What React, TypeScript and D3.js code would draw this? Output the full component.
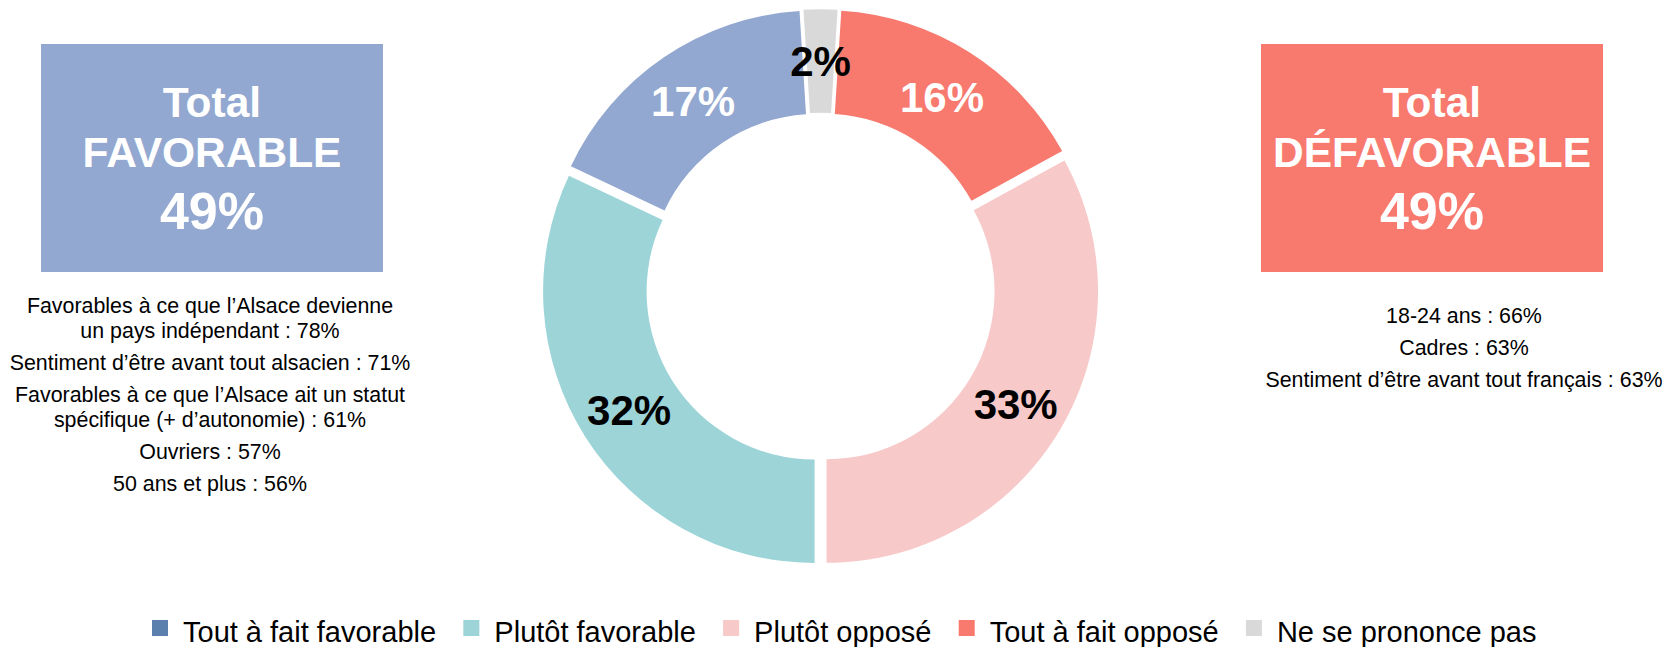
import React, { useMemo } from 'react';
import * as d3 from 'd3';

// chart data
const categories = ['Tout à fait favorable', 'Plutôt favorable', 'Plutôt opposé', 'Tout à fait opposé', 'Ne se prononce pas'];
const values = [17, 32, 33, 16, 2];
const sliceColors = ['#93A8D0', '#9CD4D8', '#F7C9C9', '#F8796E', '#D9D9D9'];
const legendColors = ['#5B80AE', '#9CD4D8', '#F7C9C9', '#F8796E', '#D9D9D9'];
const labelColors = ['#ffffff', '#000000', '#000000', '#ffffff', '#000000'];

const totalFavorable = ['Total', 'FAVORABLE', '49%'];
const totalDefavorable = ['Total', 'DÉFAVORABLE', '49%'];
const favorableNotes = [
  ['Favorables à ce que l’Alsace devienne', 'un pays indépendant : 78%'],
  ['Sentiment d’être avant tout alsacien : 71%'],
  ['Favorables à ce que l’Alsace ait un statut', 'spécifique (+ d’autonomie) : 61%'],
  ['Ouvriers : 57%'],
  ['50 ans et plus : 56%'],
];
const defavorableNotes = [['18-24 ans : 66%'], ['Cadres : 63%'], ['Sentiment d’être avant tout français : 63%']];

const FONT = '"Liberation Sans", Arial, Helvetica, sans-serif';
const W = 1664;
const H = 647;

// measure text for the legend layout
const measure = (txt: string, size: number) => {
  const ctx = document.createElement('canvas').getContext('2d');
  if (!ctx) return txt.length * size * 0.5;
  ctx.font = `${size}px "Liberation Sans", Arial, sans-serif`;
  return ctx.measureText(txt).width;
};

const TotalBox = ({ x, color, lines }: { x: number; color: string; lines: string[] }) => {
  const w = 342;
  return (
    <g>
      <rect x={x} y={44} width={w} height={228} fill={color} />
      <text x={x + w / 2} y={117} textAnchor="middle" fill="#fff" fontWeight="bold" fontSize={42.5} fontFamily={FONT}>{lines[0]}</text>
      <text x={x + w / 2} y={167} textAnchor="middle" fill="#fff" fontWeight="bold" fontSize={42.5} fontFamily={FONT}>{lines[1]}</text>
      <text x={x + w / 2} y={229} textAnchor="middle" fill="#fff" fontWeight="bold" fontSize={52} fontFamily={FONT}>{lines[2]}</text>
    </g>
  );
};

const Notes = ({ cx, y0, groups }: { cx: number; y0: number; groups: string[][] }) => {
  let y = y0;
  const out: React.ReactNode[] = [];
  groups.forEach((g, gi) => {
    if (gi > 0) y += 32;
    g.forEach((line, li) => {
      if (li > 0) y += 25;
      out.push(
        <text key={`${gi}-${li}`} x={cx} y={y} textAnchor="middle" fontSize={21.4} fontFamily={FONT} fill="#000">{line}</text>
      );
    });
  });
  return <g>{out}</g>;
};

export default function App() {
  const cx = 820.5;
  const cy = 287.7;
  const outer = 271.5;
  const inner = 168;
  const explode = 7; // every slice pulled out a bit

  const arcs = useMemo(() => {
    const total = d3.sum(values);
    const start = -(values[values.length - 1] / total) * Math.PI;
    return d3.pie<number>().sort(null).startAngle(start).endAngle(start - 2 * Math.PI)(values);
  }, []);

  const arcGen = d3.arc<d3.PieArcDatum<number>>().innerRadius(inner).outerRadius(outer);
  const offset = (a: d3.PieArcDatum<number>) => {
    const m = (a.startAngle + a.endAngle) / 2;
    return [Math.sin(m) * explode, -Math.cos(m) * explode];
  };

  // legend layout
  const legendSize = 29;
  const box = 16;
  const gapText = 15;
  const gapItem = 27.25;
  let lx = 152;
  const legend = categories.map((c, i) => {
    const item = { x: lx, label: c, color: legendColors[i] };
    lx += box + gapText + measure(c, legendSize) + gapItem;
    return item;
  });

  return (
    <svg width={W} height={H} style={{ position: 'absolute', left: 0, top: 0, display: 'block', background: '#fff' }}>
      <TotalBox x={41} color="#93A8D0" lines={totalFavorable} />
      <TotalBox x={1261} color="#F8796E" lines={totalDefavorable} />
      <Notes cx={210} y0={313} groups={favorableNotes} />
      <Notes cx={1464} y0={323} groups={defavorableNotes} />

      <g transform={`translate(${cx},${cy})`}>
        {arcs.map((a, i) => {
          const [ox, oy] = offset(a);
          return <path key={i} d={arcGen(a) || ''} transform={`translate(${ox},${oy})`} fill={sliceColors[i]} />;
        })}
        {arcs.map((a, i) => {
          const [ox, oy] = offset(a);
          const [px, py] = arcGen.centroid(a);
          return (
            <text key={i} x={px + ox} y={py + oy + 1} textAnchor="middle" dominantBaseline="central"
              fontSize={42} fontWeight="bold" fontFamily={FONT} fill={labelColors[i]}>
              {`${values[i]}%`}
            </text>
          );
        })}
      </g>

      <g>
        {legend.map((l, i) => (
          <g key={i}>
            <rect x={l.x} y={620} width={box} height={box} fill={l.color} />
            <text x={l.x + box + gapText} y={642} fontSize={legendSize} fontFamily={FONT} fill="#000">{l.label}</text>
          </g>
        ))}
      </g>
    </svg>
  );
}
